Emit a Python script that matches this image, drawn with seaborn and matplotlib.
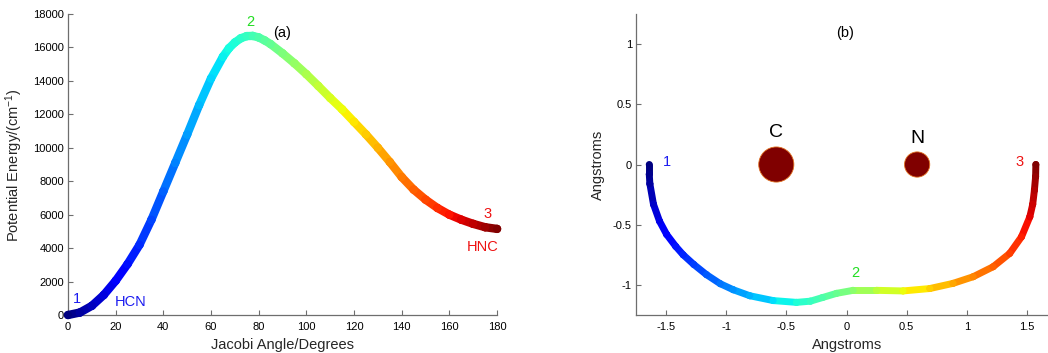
import numpy as np
import matplotlib
matplotlib.use("Agg")
import matplotlib.pyplot as plt
import seaborn as sns
from matplotlib.collections import LineCollection
from matplotlib.colors import Normalize
from matplotlib.ticker import FuncFormatter

# ---------------- data ----------------
angle_deg = [0, 5, 10, 15, 20, 25, 30, 35, 40, 45, 50, 55, 60, 65, 67.5, 70, 72.5, 75,
             77.5, 80, 82.5, 85, 90, 95, 100, 105, 110, 115, 120, 125, 130, 135, 140,
             145, 150, 155, 160, 165, 170, 175, 180]
energy_cm = [0, 150, 550, 1200, 2050, 3050, 4200, 5700, 7400, 9100, 10800, 12550, 14150,
             15450, 15950, 16300, 16550, 16680, 16690, 16600, 16420, 16200, 15650, 15050,
             14400, 13700, 12980, 12300, 11550, 10800, 10000, 9150, 8250, 7500, 6900,
             6400, 6000, 5700, 5450, 5250, 5150]

path_x = [-1.640, -1.640, -1.635, -1.605, -1.555, -1.496, -1.420, -1.358, -1.270, -1.164,
          -1.050, -0.942, -0.804, -0.610, -0.416, -0.300, -0.200, -0.083, 0.055, 0.250,
          0.470, 0.693, 0.886, 1.053, 1.219, 1.357, 1.455, 1.524, 1.548, 1.562, 1.572,
          1.574]
path_y = [0.000, -0.080, -0.160, -0.330, -0.470, -0.580, -0.680, -0.750, -0.830, -0.915,
          -0.990, -1.040, -1.090, -1.130, -1.145, -1.135, -1.105, -1.070, -1.045, -1.045,
          -1.050, -1.030, -0.987, -0.932, -0.849, -0.738, -0.600, -0.434, -0.330, -0.213,
          -0.100, 0.000]

atom_names = ["C", "N"]
atom_x = [-0.584, 0.587]
atom_y = [0.0, 0.0]

left_xticks = [0, 20, 40, 60, 80, 100, 120, 140, 160, 180]
left_yticks = [0, 2000, 4000, 6000, 8000, 10000, 12000, 14000, 16000, 18000]
right_xticks = [-1.5, -1, -0.5, 0, 0.5, 1, 1.5]
right_yticks = [-1, -0.5, 0, 0.5, 1]

# ---------------- style ----------------
sns.set_theme(style="ticks")
plt.rcParams["font.family"] = ["Liberation Sans", "DejaVu Sans"]
plt.rcParams["mathtext.fontset"] = "custom"
plt.rcParams["mathtext.rm"] = "Liberation Sans"
plt.rcParams["mathtext.it"] = "Liberation Sans:italic"
plt.rcParams["axes.unicode_minus"] = False

SPINE = "#6e6e6e"
TICK_FS = 8
LABEL_FS = 10.5
NOTE_FS = 10.5
BLUE = "#1c1cf0"
GREEN = "#22dd22"
RED = "#ee1111"
JET = matplotlib.colormaps["jet"]
norm = Normalize(0, 180)


def gradient_line(ax, x, y, c, lw):
    x = np.asarray(x, float)
    y = np.asarray(y, float)
    c = np.asarray(c, float)
    pts = np.column_stack([x, y])
    segs = np.stack([pts[:-1], pts[1:]], axis=1)
    lc = LineCollection(segs, cmap=JET, norm=norm, linewidths=lw,
                        capstyle="round", joinstyle="round", clip_on=False, zorder=3)
    lc.set_array((c[:-1] + c[1:]) / 2)
    ax.add_collection(lc)
    sns.scatterplot(x=x, y=y, hue=c, palette=JET, hue_norm=norm, s=lw ** 2,
                    linewidth=0, legend=False, ax=ax, clip_on=False, zorder=4)


def style_axes(ax):
    sns.despine(ax=ax)
    for s in ("left", "bottom"):
        ax.spines[s].set_color(SPINE)
        ax.spines[s].set_linewidth(0.9)
    ax.tick_params(direction="in", length=3.5, width=0.8, color=SPINE,
                   labelsize=TICK_FS, labelcolor="black")
    ax.tick_params(axis="x", pad=5)
    ax.tick_params(axis="y", pad=3)
    ax.set_facecolor("white")


fig = plt.figure(figsize=(10.48, 3.53), dpi=100)
fig.patch.set_facecolor("white")

# ---------------- panel (a) ----------------
ax1 = fig.add_axes([0.0649, 0.1076, 0.4094, 0.8527])
gradient_line(ax1, angle_deg, energy_cm, angle_deg, 6.0)
ax1.set_xlim(0, 180)
ax1.set_ylim(0, 18000)
ax1.set_xticks(left_xticks)
ax1.set_yticks(left_yticks)
ax1.xaxis.set_major_formatter(FuncFormatter(lambda v, p: "%g" % v))
ax1.yaxis.set_major_formatter(FuncFormatter(lambda v, p: "%d" % v))
style_axes(ax1)
ax1.set_xlabel("Jacobi Angle/Degrees", fontsize=LABEL_FS)
ax1.set_ylabel("Potential Energy/(cm$^{-1}$)", fontsize=LABEL_FS)
ax1.xaxis.set_label_coords(0.499, -0.076)
ax1.yaxis.set_label_coords(-0.100, 0.498)

ax1.text(3.9, 940, "1", color=BLUE, fontsize=NOTE_FS, ha="center", va="center")
ax1.text(26.3, 760, "HCN", color=BLUE, fontsize=NOTE_FS, ha="center", va="center")
ax1.text(76.6, 17540, "2", color=GREEN, fontsize=NOTE_FS, ha="center", va="center")
ax1.text(90, 16880, "(a)", color="black", fontsize=10.5, ha="center", va="center")
ax1.text(176.2, 6040, "3", color=RED, fontsize=NOTE_FS, ha="center", va="center")
ax1.text(174, 4050, "HNC", color=RED, fontsize=NOTE_FS, ha="center", va="center")

# ---------------- panel (b) ----------------
ax2 = fig.add_axes([0.6069, 0.1076, 0.3931, 0.8527])
path_angle = np.degrees(np.arctan2(-np.asarray(path_y), -np.asarray(path_x)))
path_angle = np.clip(np.where(path_angle < -90, path_angle + 360, path_angle), 0, 180)
path_angle[-1] = 180.0
gradient_line(ax2, path_x, path_y, path_angle, 5.0)

sns.scatterplot(x=atom_x, y=atom_y, size=atom_names, sizes={"C": 640, "N": 330},
                color="#800000", edgecolor="#e07020", linewidth=0.6,
                legend=False, ax=ax2, zorder=5)

ax2.set_xlim(-1.75, 1.675)
ax2.set_ylim(-1.25, 1.25)
ax2.set_xticks(right_xticks)
ax2.set_yticks(right_yticks)
ax2.xaxis.set_major_formatter(FuncFormatter(lambda v, p: "%g" % v))
ax2.yaxis.set_major_formatter(FuncFormatter(lambda v, p: "%g" % v))
style_axes(ax2)
ax2.set_xlabel("Angstroms", fontsize=LABEL_FS)
ax2.set_ylabel("Angstroms", fontsize=LABEL_FS)
ax2.xaxis.set_label_coords(0.512, -0.076)
ax2.yaxis.set_label_coords(-0.075, 0.50)

ax2.text(-0.011, 1.094, "(b)", color="black", fontsize=10.5, ha="center", va="center")
ax2.text(-1.496, 0.022, "1", color=BLUE, fontsize=NOTE_FS, ha="center", va="center")
ax2.text(0.072, -0.898, "2", color=GREEN, fontsize=NOTE_FS, ha="center", va="center")
ax2.text(1.44, 0.02, "3", color=RED, fontsize=NOTE_FS, ha="center", va="center")
ax2.text(-0.584, 0.265, "C", color="black", fontsize=14, ha="center", va="center")
ax2.text(0.587, 0.218, "N", color="black", fontsize=14, ha="center", va="center")

fig.savefig("out.png", dpi=100, facecolor="white")
